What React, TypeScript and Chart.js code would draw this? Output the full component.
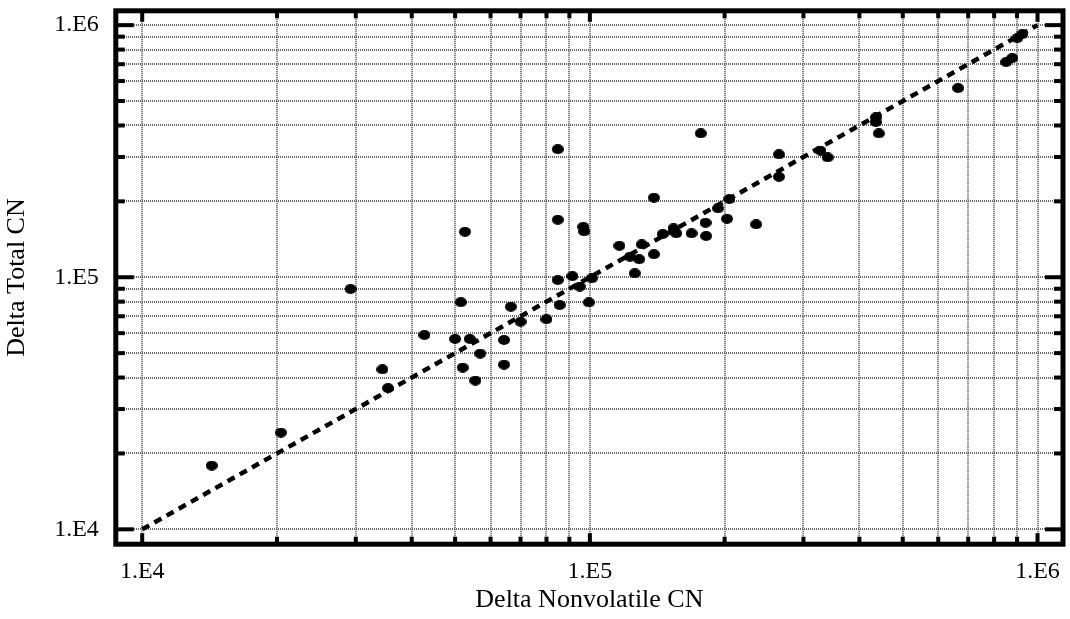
import React, { useEffect, useRef } from 'react';
import { Chart, registerables } from 'chart.js';

Chart.register(...registerables);

// Delta Nonvolatile CN (x) and Delta Total CN (y)
const xNonvolatile = [
  14300, 20400, 29200, 34400, 35400, 42700, 50000, 51500, 52600, 52000,
  53900, 55500, 56900, 64300, 64300, 66600, 70000, 80000, 84800, 84800,
  84800, 85600, 91400, 94900, 96700, 97100, 101000, 99500, 116400, 130600,
  122900, 128900, 139000, 126000, 139000, 145500, 153800, 155900, 168700, 176900,
  181300, 181900, 193300, 205000, 202500, 235200, 264500, 264500, 327300, 339800,
  435300, 435300, 442100, 664600, 851400, 878100, 901000, 924300,
];
const yTotal = [
  17900, 24200, 89800, 43100, 36300, 59000, 56900, 79600, 151500, 43800,
  56900, 38900, 49800, 56400, 45000, 76400, 66600, 68100, 322000, 169000,
  97500, 77600, 101000, 91800, 158500, 152000, 99000, 79400, 133300, 135000,
  120600, 117800, 123300, 103700, 206700, 148400, 156300, 149300, 149300, 372000,
  164500, 145700, 187600, 204200, 170600, 162100, 307000, 250300, 318000, 298800,
  430600, 412500, 372000, 562600, 713500, 740000, 888000, 921000,
];

// 1:1 reference line
const refLineX = [10000, 1000000];
const refLineY = [10000, 1000000];

// axis ticks / grid
const gridValues = [
  10000, 20000, 30000, 40000, 50000, 60000, 70000, 80000, 90000,
  100000, 200000, 300000, 400000, 500000, 600000, 700000, 800000, 900000,
  1000000,
];
const labeledTicks = [10000, 100000, 1000000];
const tickLabels = ['1.E4', '1.E5', '1.E6'];
const axisMin = 8730;
const axisMax = 1140000;
const xTitle = 'Delta Nonvolatile CN';
const yTitle = 'Delta Total CN';

const FONT_FAMILY = '"Liberation Serif", "Times New Roman", serif';

export default function App() {
  const canvasRef = useRef<HTMLCanvasElement>(null);

  useEffect(() => {
    if (!canvasRef.current) return;

    const dot = document.createElement('canvas');
    dot.width = 12;
    dot.height = 10;
    const dctx = dot.getContext('2d')!;
    dctx.fillStyle = '#000';
    dctx.beginPath();
    dctx.ellipse(6, 5, 6, 5, 0, 0, Math.PI * 2);
    dctx.fill();

    const framePlugin = {
      id: 'frameTicks',
      afterDraw(chart: any) {
        const { ctx, chartArea: a, scales } = chart;
        ctx.save();
        ctx.fillStyle = '#000';
        gridValues.forEach((v) => {
          const major = labeledTicks.includes(v);
          const px = scales.x.getPixelForValue(v);
          const lx = major ? 11 : 7.5;
          ctx.fillRect(px - 2, a.bottom - lx, 4, lx);
          ctx.fillRect(px - 2, a.top, 4, lx);
          const py = scales.y.getPixelForValue(v);
          const ly = major ? 18 : 9;
          ctx.fillRect(a.left, py - 2, ly, 4);
          ctx.fillRect(a.right - ly, py - 2, ly, 4);
        });
        ctx.strokeStyle = '#000';
        ctx.lineWidth = 5;
        ctx.strokeRect(a.left, a.top, a.right - a.left, a.bottom - a.top);
        ctx.restore();
      },
    };

    const tickFont = { family: FONT_FAMILY, size: 24 };
    const titleFont = { family: FONT_FAMILY, size: 26 };

    const makeAxis = (title: string, horizontal: boolean) => ({
      type: 'logarithmic' as const,
      min: axisMin,
      max: axisMax,
      afterBuildTicks: (s: any) => {
        s.ticks = gridValues.map((v) => ({ value: v }));
      },
      afterFit: (s: any) => {
        if (horizontal) s.height = 74.8;
        else s.width = 115.8;
        s.paddingLeft = 0;
        s.paddingRight = 0;
        s.paddingTop = 0;
        s.paddingBottom = 0;
      },
      ticks: {
        autoSkip: false,
        maxRotation: 0,
        minRotation: 0,
        color: '#000',
        font: tickFont,
        padding: horizontal ? 13 : 17,
        callback: (v: any) => {
          const i = labeledTicks.indexOf(Number(v));
          return i >= 0 ? tickLabels[i] : '';
        },
      },
      grid: { color: '#6a6a6a', lineWidth: 2, drawTicks: false },
      border: { display: false, dash: [1, 1] },
      title: {
        display: true,
        text: title,
        color: '#000',
        font: titleFont,
        padding: horizontal ? { top: 0, bottom: 3 } : { top: 2, bottom: 0 },
      },
    });

    const chart = new Chart(canvasRef.current, {
      type: 'scatter',
      data: {
        datasets: [
          {
            label: '1:1',
            data: refLineX.map((x, i) => ({ x, y: refLineY[i] })),
            showLine: true,
            borderColor: '#000',
            borderWidth: 4.5,
            borderDash: [8, 6],
            pointRadius: 0,
            pointHoverRadius: 0,
          },
          {
            label: 'CN',
            data: xNonvolatile.map((x, i) => ({ x, y: yTotal[i] })),
            pointStyle: dot as any,
            backgroundColor: '#000',
            borderColor: '#000',
            pointRadius: 6,
          },
        ],
      },
      options: {
        responsive: false,
        animation: false,
        devicePixelRatio: 1,
        layout: { padding: { top: 10.8, right: 5.8, left: 0, bottom: 0 } },
        plugins: { legend: { display: false }, tooltip: { enabled: false } },
        scales: {
          x: makeAxis(xTitle, true) as any,
          y: makeAxis(yTitle, false) as any,
        },
      },
      plugins: [framePlugin],
    });

    return () => chart.destroy();
  }, []);

  return (
    <div style={{ position: 'absolute', left: 0, top: 0, width: 1070, height: 619, background: '#fff' }}>
      <canvas ref={canvasRef} width={1070} height={619} style={{ display: 'block' }} />
    </div>
  );
}
